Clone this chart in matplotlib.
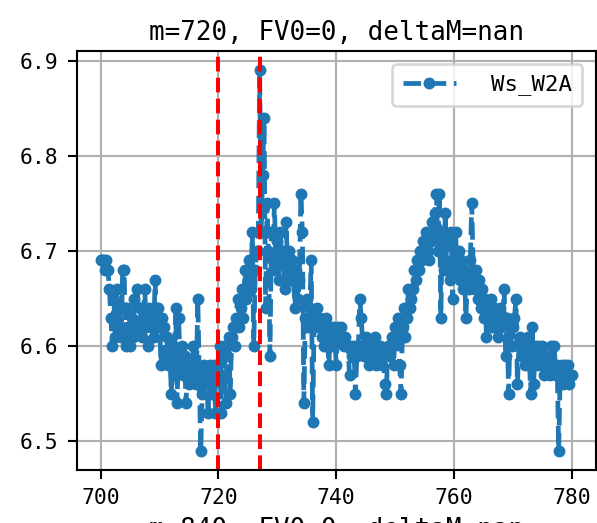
import numpy as np
import matplotlib
matplotlib.use("Agg")
import matplotlib.pyplot as plt

# ---- data ----
x_start = 700
x_step = 0.25
ws_w2a = [
    6.69, 6.69, 6.69, 6.68,   # 700
    6.69, 6.68, 6.66, 6.63,   # 701
    6.60, 6.65, 6.61, 6.66,   # 702
    6.62, 6.64, 6.61, 6.68,   # 703
    6.68, 6.60, 6.64, 6.62,   # 704
    6.60, 6.63, 6.61, 6.65,   # 705
    6.62, 6.66, 6.62, 6.64,   # 706
    6.61, 6.63, 6.66, 6.62,   # 707
    6.60, 6.64, 6.62, 6.63,   # 708
    6.61, 6.67, 6.62, 6.64,   # 709
    6.63, 6.58, 6.63, 6.62,   # 710
    6.59, 6.61, 6.58, 6.60,   # 711
    6.55, 6.60, 6.57, 6.64,   # 712
    6.54, 6.63, 6.58, 6.60,   # 713
    6.57, 6.59, 6.54, 6.58,   # 714
    6.56, 6.58, 6.57, 6.60,   # 715
    6.58, 6.56, 6.65, 6.57,   # 716
    6.49, 6.55, 6.58, 6.56,   # 717
    6.57, 6.53, 6.58, 6.55,   # 718
    6.56, 6.58, 6.53, 6.57,   # 719
    6.58, 6.60, 6.53, 6.57,   # 720
    6.60, 6.54, 6.59, 6.61,   # 721
    6.55, 6.61, 6.62, 6.60,   # 722
    6.63, 6.65, 6.62, 6.64,   # 723
    6.66, 6.63, 6.68, 6.65,   # 724
    6.67, 6.69, 6.66, 6.72,   # 725
    6.60, 6.68, 6.70, 6.70,   # 726
    6.89, 6.72, 6.78, 6.84,   # 727
    6.64, 6.75, 6.70, 6.59,   # 728
    6.72, 6.68, 6.75, 6.69,   # 729
    6.71, 6.67, 6.72, 6.69,   # 730
    6.70, 6.66, 6.73, 6.68,   # 731
    6.70, 6.67, 6.69, 6.67,   # 732
    6.64, 6.68, 6.65, 6.67,   # 733
    6.76, 6.72, 6.54, 6.63,   # 734
    6.65, 6.62, 6.64, 6.69,   # 735
    6.52, 6.63, 6.62, 6.64,   # 736
    6.62, 6.63, 6.61, 6.62,   # 737
    6.60, 6.63, 6.61, 6.58,   # 738
    6.62, 6.60, 6.62, 6.61,   # 739
    6.58, 6.62, 6.61, 6.62,   # 740
    6.61, 6.60, 6.61, 6.60,   # 741
    6.60, 6.57, 6.60, 6.59,   # 742
    6.60, 6.55, 6.59, 6.60,   # 743
    6.65, 6.63, 6.60, 6.59,   # 744
    6.61, 6.60, 6.58, 6.60,   # 745
    6.59, 6.60, 6.61, 6.58,   # 746
    6.60, 6.59, 6.60, 6.58,   # 747
    6.59, 6.56, 6.55, 6.60,   # 748
    6.59, 6.60, 6.61, 6.58,   # 749
    6.62, 6.61, 6.63, 6.58,   # 750
    6.55, 6.62, 6.64, 6.61,   # 751
    6.63, 6.66, 6.64, 6.65,   # 752
    6.66, 6.68, 6.67, 6.69,   # 753
    6.68, 6.70, 6.69, 6.71,   # 754
    6.70, 6.72, 6.70, 6.69,   # 755
    6.71, 6.73, 6.72, 6.74,   # 756
    6.76, 6.70, 6.76, 6.63,   # 757
    6.72, 6.68, 6.74, 6.68,   # 758
    6.71, 6.67, 6.72, 6.65,   # 759
    6.69, 6.72, 6.68, 6.70,   # 760
    6.67, 6.69, 6.66, 6.68,   # 761
    6.63, 6.67, 6.66, 6.69,   # 762
    6.75, 6.68, 6.66, 6.68,   # 763
    6.65, 6.67, 6.64, 6.66,   # 764
    6.63, 6.65, 6.61, 6.64,   # 765
    6.63, 6.65, 6.62, 6.64,   # 766
    6.62, 6.63, 6.61, 6.64,   # 767
    6.62, 6.63, 6.66, 6.59,   # 768
    6.63, 6.55, 6.62, 6.60,   # 769
    6.62, 6.63, 6.65, 6.56,   # 770
    6.60, 6.61, 6.59, 6.60,   # 771
    6.58, 6.60, 6.61, 6.59,   # 772
    6.55, 6.62, 6.56, 6.60,   # 773
    6.58, 6.60, 6.59, 6.58,   # 774
    6.60, 6.57, 6.59, 6.58,   # 775
    6.58, 6.57, 6.60, 6.58,   # 776
    6.60, 6.57, 6.58, 6.49,   # 777
    6.57, 6.58, 6.56, 6.58,   # 778
    6.57, 6.58, 6.56, 6.57,   # 779
    6.57,                     # 780
]
x_vals = x_start + x_step * np.arange(len(ws_w2a))
vlines = [720, 727]
title_text = "m=720, FV0=0, deltaM=nan"
next_title_text = "m=840, FV0=0, deltaM=nan"
series_label = "Ws_W2A"

# ---- figure ----
DPI = 190
plt.rcParams['font.family'] = ['DejaVu Sans Mono', 'DejaVu Sans']
fig = plt.figure(figsize=(597 / DPI, 523 / DPI), dpi=DPI)
ax = fig.add_axes([77 / 597, 1 - 470 / 523, (595.5 - 77) / 597, (470 - 51) / 523])

ax.plot(x_vals, ws_w2a, linestyle='--', marker='.', color='#1f77b4',
        linewidth=1.8, markersize=7, label=series_label)
for v in vlines:
    ax.axvline(v, color='red', linestyle='--', linewidth=1.5)

ax.set_xlim(696, 784)
ax.set_ylim(6.47, 6.91)
ax.set_xticks([700, 720, 740, 760, 780])
ax.set_yticks([6.5, 6.6, 6.7, 6.8, 6.9])
ax.grid(True, color='#b0b0b0', linewidth=0.8)
ax.set_axisbelow(True)
ax.tick_params(labelsize=8.1)
for s in ax.spines.values():
    s.set_linewidth(0.8)

ax.set_title(title_text, fontsize=9.8, pad=4.2)
ax.legend(loc='upper right', fontsize=8.5, handlelength=2.38,
          handletextpad=1.56, borderpad=0.45, borderaxespad=0.6)

fig.text(ax.get_position().x0 + ax.get_position().width / 2, 1 - 537 / 523,
         next_title_text, fontsize=9.8, ha='center', va='baseline')

fig.savefig("out.png", dpi=DPI)
